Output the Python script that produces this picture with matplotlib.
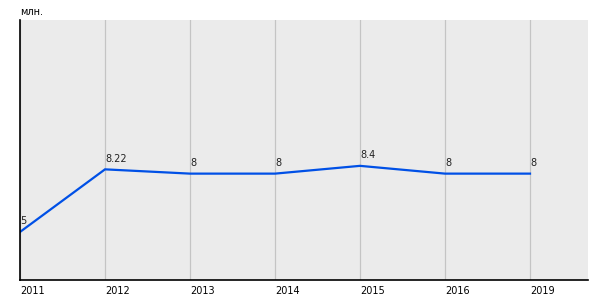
import matplotlib.pyplot as plt

# data
years = ["2011", "2012", "2013", "2014", "2015", "2016", "2019"]
values = [5, 8.22, 8, 8, 8.4, 8, 8]
labels = ["5", "8.22", "8", "8", "8.4", "8", "8"]

fig = plt.figure(figsize=(6, 3), dpi=100)
ax = fig.add_axes([20 / 600, 20 / 300, 568 / 600, 260 / 300])
ax.set_facecolor("#ebebeb")

x = list(range(len(years)))
ax.plot(x, values, color="#0050e6", linewidth=1.6, solid_joinstyle="miter")

for xi, v, lab in zip(x, values, labels):
    ax.annotate(lab, (xi, v), xytext=(0, 4), textcoords="offset points",
                ha="left", va="bottom", fontsize=7, color="#222222")

ax.set_xlim(0, 568 / 85)
ax.set_ylim(2.53, 15.9)
ax.set_xticks(x)
ax.set_xticklabels(years, fontsize=7, ha="left")
ax.tick_params(axis="x", length=0, pad=4)
ax.set_yticks([])
ax.grid(True, axis="x", color="#c4c4c4", linewidth=0.9)
ax.set_axisbelow(True)

for side in ["top", "right"]:
    ax.spines[side].set_visible(False)
ax.spines["left"].set_color("black")
ax.spines["left"].set_linewidth(1.2)
ax.spines["bottom"].set_color("black")
ax.spines["bottom"].set_linewidth(1.2)

fig.text(20 / 600, 1 - 12 / 300, "млн.", fontsize=7, ha="left", va="center")

fig.savefig("out.png", dpi=100)
